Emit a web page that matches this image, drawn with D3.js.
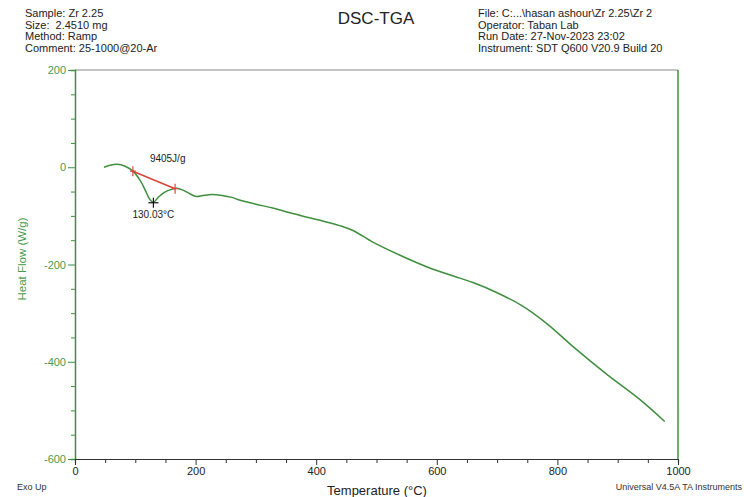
<!DOCTYPE html>
<html>
<head>
<meta charset="utf-8">
<script src="https://cdn.jsdelivr.net/npm/d3@7"></script>
<style>
  html, body { margin: 0; padding: 0; background: #fff; }
  svg { display: block; font-family: "Liberation Sans", Arial, sans-serif; }
  text { white-space: pre; }
</style>
</head>
<body>
<svg id="chart" width="744" height="497"></svg>
<script>
// ---- data ----
const temperature = [48, 58, 70, 83, 96, 108, 118, 124, 130.03, 138, 149, 161, 169, 179, 191, 201, 212, 227, 244, 260, 274, 300, 328, 355, 385, 412, 439, 461, 494, 539, 584, 638, 660, 700, 743, 783, 826, 882, 937, 978];
const heatFlow    = [0, 4, 6, 2, -8, -27, -51, -66, -72, -62, -51, -45, -43, -47, -55, -60, -58, -56, -58, -62, -68, -76, -84, -93, -103, -111, -120, -130, -154, -181, -205, -228, -237, -258, -286, -322, -369, -426, -478, -523];

const xTicksMajor = [0, 200, 400, 600, 800, 1000];
const yTicksMajor = [200, 0, -200, -400, -600];

const integStart = {t: 96, v: -8};
const integEnd   = {t: 166, v: -44};
const peak       = {t: 130.03, v: -73};
const enthalpyLabel = "9405J/g";
const peakLabel = "130.03°C";

const headerLeft  = ["Sample: Zr 2.25", "Size:\u00a0 2.4510 mg", "Method: Ramp", "Comment: 25-1000@20-Ar"];
const headerRight = ["File: C:...\\hasan ashour\\Zr 2.25\\Zr 2", "Operator: Taban Lab", "Run Date: 27-Nov-2023 23:02", "Instrument: SDT Q600 V20.9 Build 20"];

// ---- layout ----
const svg = d3.select("#chart");
const L = 75, R = 678, T = 70, B = 459;
const x = d3.scaleLinear().domain([0, 1000]).range([L, R]);
const y = d3.scaleLinear().domain([-600, 200]).range([B, T]);

const green = "#3f8f3f";
const labelGreen = "#4a9a4a";

// header
svg.append("g").selectAll("text").data(headerLeft).join("text")
  .attr("x", 25).attr("y", (d, i) => 17 + i * 11.7)
  .attr("font-size", 11).attr("fill", "#222").text(d => d);
svg.append("g").selectAll("text").data(headerRight).join("text")
  .attr("x", 478).attr("y", (d, i) => 17 + i * 11.7)
  .attr("font-size", 11).attr("fill", "#222").text(d => d);
svg.append("text").attr("x", 376).attr("y", 23.5).attr("text-anchor", "middle")
  .attr("font-size", 17).attr("fill", "#222").text("DSC-TGA");

// frame: top gray, right green
svg.append("line").attr("x1", L).attr("x2", R).attr("y1", T).attr("y2", T)
  .attr("stroke", "#888").attr("stroke-width", 1.2);
svg.append("line").attr("x1", R).attr("x2", R).attr("y1", T).attr("y2", B)
  .attr("stroke", green).attr("stroke-width", 1.5);

// y axis
const yAxis = d3.axisLeft(y).tickValues(d3.range(-600, 201, 50)).tickSize(4).tickFormat(d => yTicksMajor.includes(d) ? d : "");
const gy = svg.append("g").attr("transform", `translate(${L},0)`).call(yAxis);
gy.select(".domain").attr("stroke", green).attr("stroke-width", 1.5);
gy.selectAll(".tick line").attr("stroke", green).attr("x2", d => yTicksMajor.includes(d) ? -7 : -4);
gy.selectAll(".tick text").attr("fill", labelGreen).attr("font-size", 11).attr("x", -9)
  .attr("font-family", "Liberation Sans, Arial, sans-serif");

// x axis
const xAxis = d3.axisBottom(x).tickValues(d3.range(0, 1001, 50)).tickSize(4).tickFormat(d => xTicksMajor.includes(d) ? d : "");
const gx = svg.append("g").attr("transform", `translate(0,${B})`).call(xAxis);
gx.select(".domain").attr("stroke", "#333").attr("stroke-width", 1.2);
gx.selectAll(".tick line").attr("stroke", "#333").attr("y2", d => xTicksMajor.includes(d) ? 6 : 4);
gx.selectAll(".tick text").attr("fill", "#222").attr("font-size", 11).attr("y", 8)
  .attr("font-family", "Liberation Sans, Arial, sans-serif");

// axis titles
svg.append("text").attr("transform", `translate(26,259) rotate(-90)`)
  .attr("text-anchor", "middle").attr("font-size", 11.5).attr("fill", labelGreen).text("Heat Flow (W/g)");
svg.append("text").attr("x", 377).attr("y", 495).attr("text-anchor", "middle")
  .attr("font-size", 13).attr("fill", "#222").text("Temperature (°C)");
svg.append("text").attr("x", 17).attr("y", 490).attr("font-size", 9).attr("fill", "#333").text("Exo Up");
svg.append("text").attr("x", 742).attr("y", 490).attr("text-anchor", "end")
  .attr("font-size", 9).attr("fill", "#333").text("Universal V4.5A TA Instruments");

// curve
const pts = temperature.map((t, i) => [t, heatFlow[i]]);
const line = d3.line().x(d => x(d[0])).y(d => y(d[1])).curve(d3.curveCatmullRom.alpha(0.5));
svg.append("path").attr("d", line(pts)).attr("fill", "none")
  .attr("stroke", green).attr("stroke-width", 1.5);

// integration baseline
const red = "#d9453a";
svg.append("line")
  .attr("x1", x(integStart.t)).attr("y1", y(integStart.v))
  .attr("x2", x(integEnd.t)).attr("y2", y(integEnd.v))
  .attr("stroke", red).attr("stroke-width", 1.6);
[integStart, integEnd].forEach(p => {
  const cx = x(p.t), cy = y(p.v);
  svg.append("line").attr("x1", cx).attr("x2", cx).attr("y1", cy - 5).attr("y2", cy + 5)
    .attr("stroke", red).attr("stroke-width", 1.2);
  svg.append("line").attr("x1", cx - 3).attr("x2", cx + 3).attr("y1", cy).attr("y2", cy)
    .attr("stroke", red).attr("stroke-width", 1.2);
});
// peak cross
{
  const cx = x(peak.t), cy = y(peak.v);
  svg.append("line").attr("x1", cx - 5).attr("x2", cx + 5).attr("y1", cy).attr("y2", cy)
    .attr("stroke", "#111").attr("stroke-width", 1.2);
  svg.append("line").attr("x1", cx).attr("x2", cx).attr("y1", cy - 5).attr("y2", cy + 5)
    .attr("stroke", "#111").attr("stroke-width", 1.2);
}
svg.append("text").attr("x", x(integStart.t) + 17).attr("y", 162)
  .attr("font-size", 10).attr("fill", "#222").text(enthalpyLabel);
svg.append("text").attr("x", x(peak.t)).attr("y", 218).attr("text-anchor", "middle")
  .attr("font-size", 10).attr("fill", "#222").text(peakLabel);
</script>
</body>
</html>
